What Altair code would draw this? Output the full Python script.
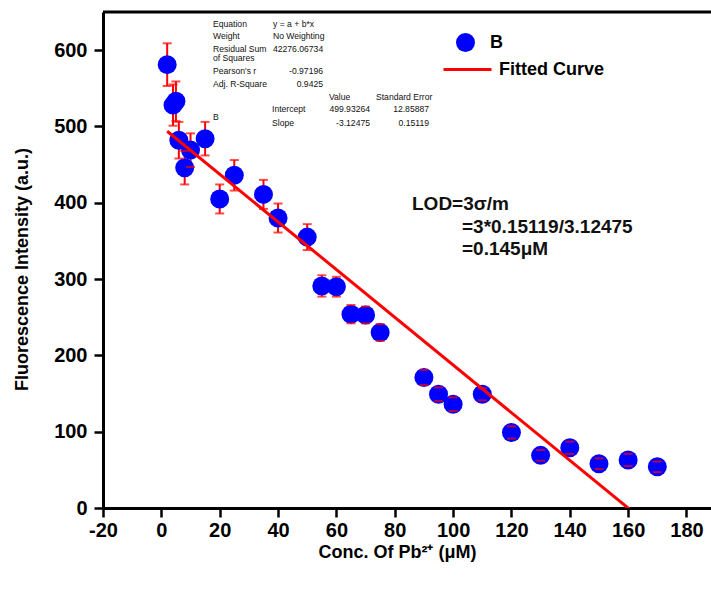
import altair as alt
import pandas as pd

# ---- data ----
conc = [2, 4, 5, 6, 8, 10, 15, 20, 25, 35, 40, 50, 55, 60, 65, 70, 75,
        90, 95, 100, 110, 120, 130, 140, 150, 160, 170]
intensity = [581, 528, 533, 482, 446, 469, 484, 405, 436, 411, 380, 355, 291,
             290, 254, 253, 230, 171, 149, 136, 149, 99, 69, 79, 58, 63, 54]
error = [28, 27, 26, 24, 22, 22, 22, 19, 20, 19, 19, 17, 14,
         13, 12, 11, 11, 10, 9, 9, 8, 8, 7, 8, 7, 8, 7]

fit_intercept = 499.93264
fit_slope = -3.12475

stat_names = ["Equation", "Weight", "Residual Sum", "Pearson's r", "Adj. R-Square"]
stat_values = ["y = a + b*x", "No Weighting", "42276.06734", "-0.97196", "0.9425"]
param_headers = ["Value", "Standard Error"]
param_names = ["Intercept", "Slope"]
param_values = ["499.93264", "-3.12475"]
param_errors = ["12.85887", "0.15119"]
lod_lines = ["LOD=3\u03c3/m", "=3*0.15119/3.12475", "=0.145\u03bcM"]

x_ticks = list(range(-20, 190, 10))
y_ticks = list(range(0, 651, 50))

# ---- tables ----
df = pd.DataFrame({"conc": conc, "intensity": intensity, "err": error})
df["lo"] = df["intensity"] - df["err"]
df["hi"] = df["intensity"] + df["err"]
df["series"] = "B"

fit_df = pd.DataFrame({"conc": [min(conc), max(conc)]})
fit_df["fit"] = fit_intercept + fit_slope * fit_df["conc"]
fit_df["series"] = "Fitted Curve"

one = pd.DataFrame({"a": [0]})

W, H = 608, 496
FONT = "Liberation Sans"
BLUE = "#0000ff"
RED = "#ff0000"

x_scale = alt.Scale(domain=[-20, 188.4], nice=False, zero=False)
y_scale = alt.Scale(domain=[0, 650], nice=False, zero=False)

common_axis = dict(
    domainColor="black", domainWidth=3, tickColor="black", tickWidth=2.5,
    labelFont=FONT, labelFontSize=20, labelFontWeight="bold", labelColor="black",
    labelOverlap=False, labelBound=False, labelFlush=False, grid=False,
    titleFont=FONT, titleFontSize=18, titleFontWeight="bold", titleColor="black",
)

x_axis = alt.Axis(
    values=x_ticks,
    labelExpr="datum.value % 20 === 0 ? '' + datum.value : ''",
    tickSize={"condition": {"test": "datum.value % 20 === 0", "value": 9}, "value": 5},
    labelPadding=3,
    title="Conc. Of Pb\u00b2\u207a (\u03bcM)",
    titleX=294, titleY=44, titleBaseline="middle", titleAnchor="start", titleAlign="center",
    **common_axis,
)
y_axis = alt.Axis(
    values=y_ticks,
    labelExpr="datum.value % 100 === 0 ? '' + datum.value : ''",
    tickSize={"condition": {"test": "datum.value % 100 === 0", "value": 9}, "value": 5},
    labelPadding=7,
    title="Fluorescence Intensity (a.u.)",
    titleX=-81, titleY=257, titleBaseline="middle", titleAlign="center", titleAngle=-90,
    **common_axis,
)

base = alt.Chart(df)

rules = base.mark_rule(color=RED, strokeWidth=2).encode(
    x=alt.X("conc:Q", scale=x_scale, axis=x_axis),
    y=alt.Y("lo:Q", scale=y_scale, axis=y_axis),
    y2="hi:Q",
)

points = base.mark_point(filled=True, shape="circle", size=361, opacity=1, strokeWidth=0).encode(
    x=alt.X("conc:Q", scale=x_scale),
    y=alt.Y("intensity:Q", scale=y_scale),
    fill=alt.Fill(
        "series:N",
        scale=alt.Scale(domain=["B"], range=[BLUE]),
        legend=alt.Legend(
            title=None, orient="none", legendX=353, legendY=21, padding=0,
            symbolType="circle", symbolSize=361, symbolStrokeWidth=0,
            labelFont=FONT, labelFontSize=18, labelFontWeight="bold", labelColor="black",
            labelOffset=15,
        ),
    ),
)

caps = base.transform_fold(["lo", "hi"], as_=["end", "val"]).mark_tick(
    orient="horizontal", color=RED, size=9, thickness=2
).encode(
    x=alt.X("conc:Q", scale=x_scale),
    y=alt.Y("val:Q", scale=y_scale),
)

fit_line = alt.Chart(fit_df).mark_line(strokeWidth=3, clip=True).encode(
    x=alt.X("conc:Q", scale=x_scale),
    y=alt.Y("fit:Q", scale=y_scale),
    stroke=alt.Stroke(
        "series:N",
        scale=alt.Scale(domain=["Fitted Curve"], range=[RED]),
        legend=alt.Legend(
            title=None, orient="none", legendX=339, legendY=32, padding=0,
            symbolType="stroke", symbolSize=2304, symbolStrokeWidth=3,
            labelFont=FONT, labelFontSize=18, labelFontWeight="bold", labelColor="black",
            labelOffset=6,
        ),
    ),
)

top_border = alt.Chart(one).mark_rule(color="black", strokeWidth=3).encode(
    x=alt.value(0), x2=alt.value(W), y=alt.value(0)
)


def txt(s, x, y, size=8.6, weight="normal", align="left"):
    return alt.Chart(one).mark_text(
        text=s, font=FONT, fontSize=size, fontWeight=weight, align=align,
        baseline="middle", color="#111111",
    ).encode(x=alt.value(x), y=alt.value(y))


texts = []
# statistics block
row_y = [12, 24, 37, 59, 72]
for i, (n, v) in enumerate(zip(stat_names, stat_values)):
    texts.append(txt(n, 110, row_y[i]))
    if i < 3:
        texts.append(txt(v, 170, row_y[i]))
    else:
        texts.append(txt(v, 220, row_y[i], align="right"))
texts.append(txt("of Squares", 110, 46))
texts.append(txt(param_headers[0], 226, 85))
texts.append(txt(param_headers[1], 273, 85))
texts.append(txt("B", 110, 105))
for i, (n, v, e) in enumerate(zip(param_names, param_values, param_errors)):
    yy = 97 + 14 * i
    texts.append(txt(n, 169, yy))
    texts.append(txt(v, 267, yy, align="right"))
    texts.append(txt(e, 326, yy, align="right"))
# LOD annotation
texts.append(txt(lod_lines[0], 309, 192, size=19, weight="bold"))
texts.append(txt(lod_lines[1], 359, 215, size=19, weight="bold"))
texts.append(txt(lod_lines[2], 359, 237, size=19, weight="bold"))

chart = alt.layer(
    rules, points, caps, fit_line, top_border, *texts
).resolve_scale(fill="independent", stroke="independent").properties(
    width=W, height=H,
    padding={"left": 103, "top": 12, "right": 0, "bottom": 87},
    autosize=alt.AutoSizeParams(type="none"),
    background="white",
).configure_view(stroke=None)

chart.save("out.html", embed_options={"renderer": "svg", "actions": False})
